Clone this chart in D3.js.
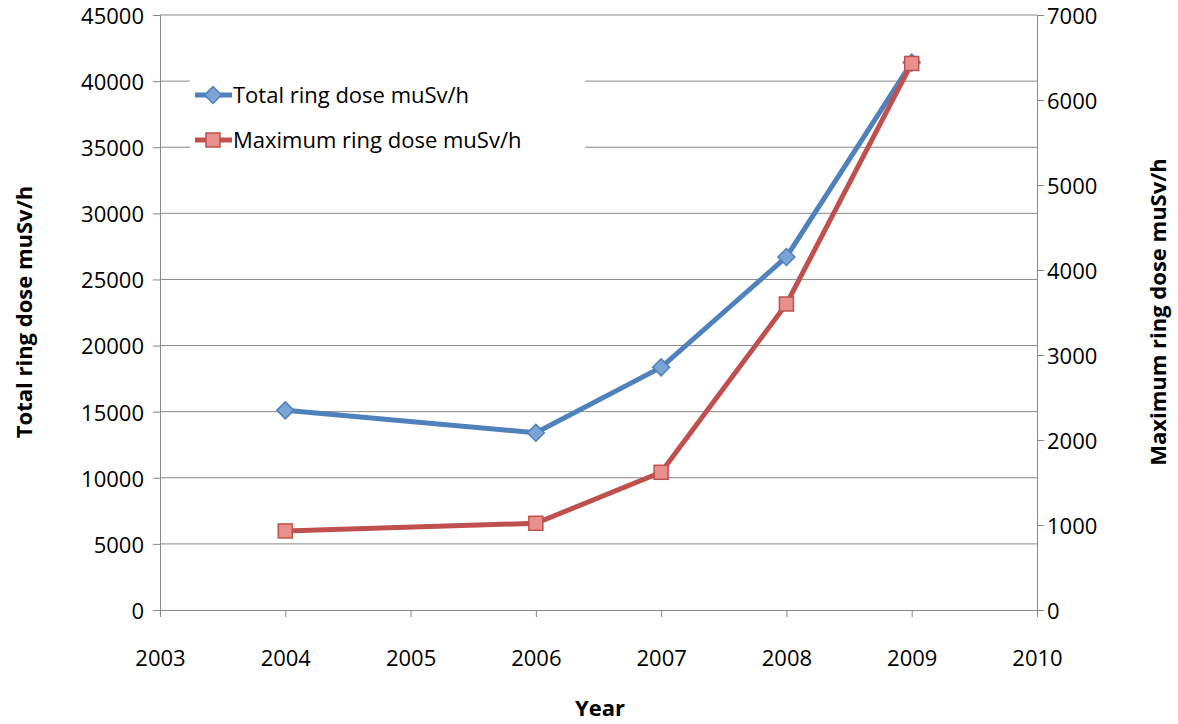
<!DOCTYPE html>
<html><head><meta charset="utf-8">
<script src="https://cdn.jsdelivr.net/npm/d3@7"></script>
<style>body{margin:0;background:#fff}text{font-family:"Open Sans",Lato,sans-serif}</style>
</head><body><svg id="c" width="1178" height="724"></svg>
<script>
const years = [2004, 2006, 2007, 2008, 2009];
const totalDose = [15100, 13400, 18350, 26700, 41400];
const maxDose = [930, 1020, 1620, 3600, 6430];
const leftTicks = [0,5000,10000,15000,20000,25000,30000,35000,40000,45000];
const rightTicks = [0,1000,2000,3000,4000,5000,6000,7000];
const xTicks = [2003,2004,2005,2006,2007,2008,2009,2010];

const svg = d3.select("#c");
const L=160,R=1037,T=15,B=610;
const x = d3.scaleLinear().domain([2003,2010]).range([L,R]);
const yL = d3.scaleLinear().domain([0,45000]).range([B,T]);
const yR = d3.scaleLinear().domain([0,7000]).range([B,T]);

svg.append("g").selectAll("line").data(leftTicks.slice(1)).join("line")
 .attr("x1",L).attr("x2",R).attr("y1",d=>yL(d)).attr("y2",d=>yL(d)).attr("stroke","#888").attr("stroke-width",1);

const ax = svg.append("g").attr("transform",`translate(${L},0)`).call(d3.axisLeft(yL).tickValues(leftTicks).tickSize(7).tickFormat(d3.format("d")));
const ar = svg.append("g").attr("transform",`translate(${R},0)`).call(d3.axisRight(yR).tickValues(rightTicks).tickSize(7).tickFormat(d3.format("d")));
const ab = svg.append("g").attr("transform",`translate(0,${B})`).call(d3.axisBottom(x).tickValues(xTicks).tickSize(7).tickFormat(d3.format("d")));
[ax,ar,ab].forEach(a=>{a.select(".domain").attr("stroke","#888");a.selectAll(".tick line").attr("stroke","#888");
 a.selectAll("text").attr("font-size",22).attr("fill","#000").style("font-family","Open Sans")});
ab.selectAll("text").attr("dy","2.1em");
ax.selectAll("text").attr("x",-16).attr("dy","0.38em");
ar.selectAll("text").attr("x",10).attr("dy","0.38em");

svg.append("text").attr("transform",`translate(32,312) rotate(-90)`).attr("text-anchor","middle").attr("font-size",22).attr("font-weight","bold").text("Total ring dose muSv/h");
svg.append("text").attr("transform",`translate(1166,312) rotate(-90)`).attr("text-anchor","middle").attr("font-size",22).attr("font-weight","bold").text("Maximum ring dose muSv/h");
svg.append("text").attr("x",600).attr("y",716).attr("text-anchor","middle").attr("font-size",22).attr("font-weight","bold").text("Year");

const blue="#4F81BD", red="#C0504D";
const lineL = d3.line().x((d,i)=>x(years[i])).y(d=>yL(d));
const lineR = d3.line().x((d,i)=>x(years[i])).y(d=>yR(d));
svg.append("path").attr("d",lineL(totalDose)).attr("fill","none").attr("stroke",blue).attr("stroke-width",5).attr("stroke-linejoin","round");
svg.append("path").attr("d",lineR(maxDose)).attr("fill","none").attr("stroke",red).attr("stroke-width",5).attr("stroke-linejoin","round");
const diamond=(g,cx,cy)=>g.append("rect").attr("x",cx-6).attr("y",cy-6).attr("width",12).attr("height",12).attr("transform",`rotate(45,${cx},${cy})`).attr("fill","#7BA3D6").attr("stroke",blue).attr("stroke-width",1.5);
const square=(g,cx,cy)=>g.append("rect").attr("x",cx-7).attr("y",cy-7).attr("width",14).attr("height",14).attr("fill","#E8908E").attr("stroke",red).attr("stroke-width",1.5);
totalDose.forEach((d,i)=>diamond(svg,x(years[i]),yL(d)));
maxDose.forEach((d,i)=>square(svg,x(years[i]),yR(d)));

const lg = svg.append("g");
lg.append("rect").attr("x",190).attr("y",70).attr("width",395).attr("height",95).attr("fill","#fff");
lg.append("line").attr("x1",195).attr("x2",232).attr("y1",95).attr("y2",95).attr("stroke",blue).attr("stroke-width",5);
diamond(lg,213,95);
lg.append("text").attr("x",233).attr("y",103).attr("font-size",22).text("Total ring dose muSv/h");
lg.append("line").attr("x1",195).attr("x2",232).attr("y1",140).attr("y2",140).attr("stroke",red).attr("stroke-width",5);
square(lg,213,140);
lg.append("text").attr("x",233).attr("y",148).attr("font-size",22).text("Maximum ring dose muSv/h");
</script></body></html>
